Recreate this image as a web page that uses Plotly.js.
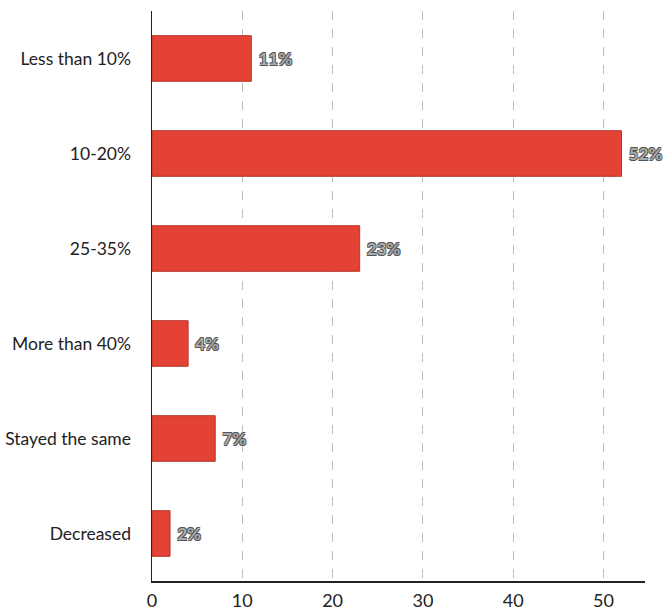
<!DOCTYPE html>
<html>
<head>
<meta charset="utf-8">
<script src="https://cdn.plot.ly/plotly-3.0.1.min.js"></script>
<style>html,body{margin:0;padding:0;background:#fff;}#chart{width:663px;height:609px;}</style>
</head>
<body>
<div id="chart"></div>
<script>
const categories = ["Less than 10%", "10-20%", "25-35%", "More than 40%", "Stayed the same", "Decreased"];
const values = [11, 52, 23, 4, 7, 2];
const labels = values.map(v => "\u00a0" + v + "%");
const xTicks = [0, 10, 20, 30, 40, 50];

const trace = {
  type: "bar",
  orientation: "h",
  y: categories,
  x: values,
  text: labels,
  textposition: "outside",
  cliponaxis: false,
  textfont: {
    family: "Lato", size: 17, weight: 700, color: "#ababab",
    shadow: "-0.7px -0.7px 0 #555, 0.7px -0.7px 0 #555, -0.7px 0.7px 0 #555, 0.7px 0.7px 0 #555"
  },
  marker: { color: "#e34234", line: { color: "#b8362b", width: 1 } },
  hoverinfo: "none"
};

const layout = {
  width: 663, height: 609,
  margin: { l: 152, r: 18, t: 11, b: 28 },
  paper_bgcolor: "#fff", plot_bgcolor: "#fff",
  font: { family: "Lato", size: 17.5, color: "#222" },
  bargap: 0.52,
  showlegend: false,
  xaxis: {
    range: [0, 54.6],
    tickvals: xTicks,
    ticktext: xTicks.map(String),
    showgrid: true, gridcolor: "#bdbdbd", griddash: "dash", gridwidth: 1,
    zeroline: false,
    showline: true, linecolor: "#222", linewidth: 1.5,
    ticks: "", ticklabelstandoff: 3, tickfont: { size: 18, color: "#222" }
  },
  yaxis: {
    autorange: "reversed",
    range: [5.5, -0.5],
    showgrid: false, zeroline: false,
    showline: true, linecolor: "#222", linewidth: 1.5,
    ticks: "", ticklabelstandoff: 16,
    tickfont: { size: 17.5, color: "#222" }
  }
};

Plotly.newPlot("chart", [trace], layout, { displayModeBar: false, staticPlot: true });
</script>
</body>
</html>
